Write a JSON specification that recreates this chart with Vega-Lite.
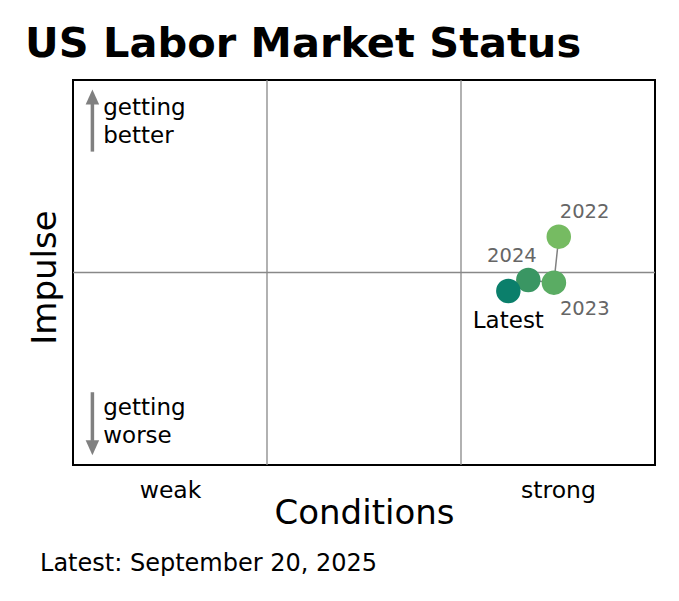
{
  "$schema": "https://vega.github.io/schema/vega-lite/v6.json",
  "width": 582,
  "height": 385,
  "autosize": {"type": "none"},
  "padding": {"left": 73, "top": 80, "right": 24, "bottom": 136},
  "background": "white",
  "title": {
    "text": "US Labor Market Status",
    "anchor": "start",
    "frame": "group",
    "dx": -48,
    "dy": 41,
    "offset": 22,
    "baseline": "alphabetic",
    "fontSize": 41.5,
    "fontWeight": "bold",
    "color": "black"
  },
  "config": {
    "font": "DejaVu Sans",
    "view": {"stroke": "black", "strokeWidth": 2}
  },
  "datasets": {
    "status": [
      {"period": "2022", "step": 1, "conditions": 2.504, "impulse": 0.186},
      {"period": "2023", "step": 2, "conditions": 2.479, "impulse": -0.053},
      {"period": "2024", "step": 3, "conditions": 2.347, "impulse": -0.039},
      {"period": "Latest", "step": 4, "conditions": 2.244, "impulse": -0.096}
    ],
    "gridV": [
      {"conditions": 1, "impulse": -1, "impulse2": 1},
      {"conditions": 2, "impulse": -1, "impulse2": 1}
    ],
    "gridH": [
      {"conditions": 0, "conditions2": 3, "impulse": 0}
    ],
    "shafts": [
      {"dir": "up", "conditions": 0.1, "impulse": 0.628, "impulse2": 0.88},
      {"dir": "down", "conditions": 0.1, "impulse": -0.622, "impulse2": -0.875}
    ],
    "heads": [
      {"dir": "up", "conditions": 0.1, "impulse": 0.912},
      {"dir": "down", "conditions": 0.1, "impulse": -0.911}
    ],
    "notes": [
      {"note": "getting\nbetter", "conditions": 0.156, "impulse": 0.816},
      {"note": "getting\nworse", "conditions": 0.156, "impulse": -0.740}
    ],
    "footer": [
      {"note": "Latest: September 20, 2025", "conditions": -0.170, "impulse": -1.549}
    ]
  },
  "encoding": {
    "x": {
      "field": "conditions",
      "type": "quantitative",
      "scale": {"domain": [0, 3], "nice": false, "zero": false},
      "axis": {
        "title": "Conditions",
        "values": [0.5, 2.5],
        "labelExpr": "datum.value < 1.5 ? 'weak' : 'strong'",
        "grid": false,
        "ticks": false,
        "tickSize": 0,
        "domain": false,
        "labelFontSize": 23.5,
        "labelColor": "black",
        "labelBaseline": "alphabetic",
        "labelPadding": 32.5,
        "titleFontSize": 34,
        "titleFontWeight": "normal",
        "titleColor": "black",
        "titleBaseline": "alphabetic",
        "titleY": 58.5
      }
    },
    "y": {
      "field": "impulse",
      "type": "quantitative",
      "scale": {"domain": [-1, 1], "nice": false, "zero": false},
      "axis": {
        "title": "Impulse",
        "labels": false,
        "grid": false,
        "ticks": false,
        "tickSize": 0,
        "domain": false,
        "titleFontSize": 34,
        "titleFontWeight": "normal",
        "titleColor": "black",
        "titleAngle": -90,
        "titleBaseline": "alphabetic",
        "titleX": -18,
        "titleY": 197
      }
    }
  },
  "layer": [
    {
      "data": {"name": "gridV"},
      "mark": {"type": "rule", "color": "#888888", "strokeWidth": 1.3},
      "encoding": {"y2": {"field": "impulse2"}}
    },
    {
      "data": {"name": "gridH"},
      "mark": {"type": "rule", "color": "#888888", "strokeWidth": 1.3},
      "encoding": {"x2": {"field": "conditions2"}}
    },
    {
      "data": {"name": "shafts"},
      "mark": {"type": "rule", "color": "#808080", "strokeWidth": 3.5},
      "encoding": {"y2": {"field": "impulse2"}}
    },
    {
      "data": {"name": "heads"},
      "mark": {"type": "point", "filled": true, "opacity": 1, "color": "#808080", "size": 225},
      "encoding": {
        "shape": {
          "field": "dir",
          "type": "nominal",
          "legend": null,
          "scale": {
            "domain": ["up", "down"],
            "range": ["M0,-1L-0.9,1L0.9,1Z", "M0,1L-0.9,-1L0.9,-1Z"]
          }
        }
      }
    },
    {
      "data": {"name": "notes"},
      "mark": {"type": "text", "align": "left", "baseline": "alphabetic", "fontSize": 23, "lineHeight": 28, "lineBreak": "\n", "color": "black"},
      "encoding": {"text": {"field": "note"}}
    },
    {
      "data": {"name": "footer"},
      "mark": {"type": "text", "align": "left", "baseline": "alphabetic", "fontSize": 24, "color": "black"},
      "encoding": {"text": {"field": "note"}}
    },
    {
      "data": {"name": "status"},
      "mark": {"type": "line", "color": "#808080", "strokeWidth": 1.5},
      "encoding": {"order": {"field": "step"}}
    },
    {
      "data": {"name": "status"},
      "mark": {"type": "circle", "size": 600, "opacity": 1},
      "encoding": {
        "color": {
          "field": "period",
          "type": "nominal",
          "legend": null,
          "scale": {
            "domain": ["2022", "2023", "2024", "Latest"],
            "range": ["#76bb62", "#5aac63", "#3a9663", "#0b7f6b"]
          }
        }
      }
    },
    {
      "data": {"name": "status"},
      "transform": [{"filter": "datum.period == '2022'"}],
      "mark": {"type": "text", "align": "left", "baseline": "alphabetic", "dx": 1, "dy": -18.4, "fontSize": 19.5, "color": "#666666"},
      "encoding": {"text": {"field": "period"}}
    },
    {
      "data": {"name": "status"},
      "transform": [{"filter": "datum.period == '2023'"}],
      "mark": {"type": "text", "align": "left", "baseline": "alphabetic", "dx": 6, "dy": 32.3, "fontSize": 19.5, "color": "#666666"},
      "encoding": {"text": {"field": "period"}}
    },
    {
      "data": {"name": "status"},
      "transform": [{"filter": "datum.period == '2024'"}],
      "mark": {"type": "text", "align": "right", "baseline": "alphabetic", "dx": 8.4, "dy": -18.3, "fontSize": 19.5, "color": "#666666"},
      "encoding": {"text": {"field": "period"}}
    },
    {
      "data": {"name": "status"},
      "transform": [{"filter": "datum.period == 'Latest'"}],
      "mark": {"type": "text", "align": "center", "baseline": "alphabetic", "dy": 37.3, "fontSize": 23, "color": "black"},
      "encoding": {"text": {"field": "period"}}
    }
  ]
}
